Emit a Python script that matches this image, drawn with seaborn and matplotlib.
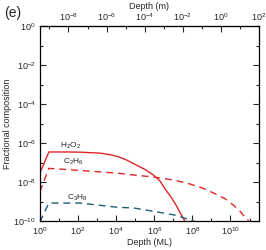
import numpy as np
import pandas as pd
import seaborn as sns
import matplotlib.pyplot as plt
from matplotlib.ticker import LogLocator, NullFormatter

# log10 depth (ML) and log10 fractional composition
h2o2_x = [0, 0.47, 1.5, 2.1, 3.15, 3.7, 4.1, 4.5, 4.9, 5.5, 5.95, 6.3, 6.6, 6.9, 7.15, 7.6]
h2o2_y = [-7.54, -6.46, -6.46, -6.47, -6.52, -6.6, -6.7, -6.85, -7.05, -7.35, -7.64, -7.95, -8.4, -8.8, -9.2, -10.0]

c2h6_x = [0, 0.47, 2.0, 4.1, 4.9, 5.95, 7.0, 7.7, 8.5, 9.1, 9.7, 10.15, 10.5, 10.8, 11.0]
c2h6_y = [-8.5, -7.3, -7.4, -7.55, -7.64, -7.74, -7.9, -8.05, -8.3, -8.56, -8.85, -9.18, -9.5, -9.85, -10.05]

c3h8_x = [0, 0.47, 2.1, 4.1, 4.9, 5.95, 7.1, 7.9, 8.2]
c3h8_y = [-10.05, -9.08, -9.08, -9.3, -9.33, -9.5, -9.7, -9.95, -10.05]

ML_TO_M = 10 ** -9.5

sns.set_style("ticks")
plt.rcParams["font.family"] = ["Liberation Sans", "DejaVu Sans"]
plt.rcParams["mathtext.fontset"] = "custom"
plt.rcParams["mathtext.rm"] = "Liberation Sans"
plt.rcParams["mathtext.it"] = "Liberation Sans"

RED = "#e0262a"
TEAL = "#1d5f78"

fig = plt.figure(figsize=(2.66, 2.5), dpi=100)
ax = fig.add_axes([0.150, 0.116, 0.824, 0.780])

def frame(xs, ys):
    return pd.DataFrame({"depth": np.power(10.0, xs), "frac": np.power(10.0, ys)})

sns.lineplot(data=frame(h2o2_x, h2o2_y), x="depth", y="frac", ax=ax,
             color=RED, lw=1.0, sort=False)
sns.lineplot(data=frame(c2h6_x, c2h6_y), x="depth", y="frac", ax=ax,
             color=RED, lw=1.0, sort=False, linestyle=(0, (5, 3.5)))
sns.lineplot(data=frame(c3h8_x, c3h8_y), x="depth", y="frac", ax=ax,
             color=TEAL, lw=1.0, sort=False, linestyle=(0, (5, 3.5)))

ax.set_xscale("log")
ax.set_yscale("log")
ax.set_xlim(1, 10 ** 11.5)
ax.set_ylim(1e-10, 1)

ax.xaxis.set_major_locator(LogLocator(base=100, numticks=20))
ax.xaxis.set_minor_locator(LogLocator(base=10, numticks=20))
ax.xaxis.set_minor_formatter(NullFormatter())
ax.yaxis.set_major_locator(LogLocator(base=100, numticks=20))
ax.yaxis.set_minor_locator(LogLocator(base=10, numticks=20))
ax.yaxis.set_minor_formatter(NullFormatter())

ax.tick_params(which="both", direction="in", right=True, labelsize=6.5, pad=3, width=0.8)
ax.tick_params(which="major", length=4)
ax.tick_params(which="minor", length=2.5)
ax.tick_params(axis="x", top=False)

for s in ax.spines.values():
    s.set_linewidth(0.9)
    s.set_color("black")

secax = ax.secondary_xaxis("top", functions=(lambda x: x * ML_TO_M, lambda x: x / ML_TO_M))
secax.xaxis.set_major_locator(LogLocator(base=100, numticks=20))
secax.xaxis.set_minor_locator(LogLocator(base=10, numticks=20))
secax.xaxis.set_minor_formatter(NullFormatter())
secax.tick_params(which="both", direction="in", labelsize=6.5, pad=2, width=0.8)
secax.tick_params(which="major", length=4)
secax.tick_params(which="minor", length=2.5)
secax.set_xlabel("Depth (m)", fontsize=6.5, labelpad=2)

ax.set_xlabel("Depth (ML)", fontsize=6.5, labelpad=1)
ax.set_ylabel("Fractional composition", fontsize=6.5, labelpad=1)

ax.text(10 ** 1.05, 10 ** -6.15, r"H$_2$O$_2$", fontsize=6, ha="left", va="center")
ax.text(10 ** 1.2, 10 ** -6.95, r"C$_2$H$_6$", fontsize=6, ha="left", va="center")
ax.text(10 ** 1.4, 10 ** -8.8, r"C$_3$H$_8$", fontsize=6, ha="left", va="center")

fig.text(0.015, 0.975, "(e)", fontsize=10, ha="left", va="top")

fig.savefig("out.png", dpi=100)
